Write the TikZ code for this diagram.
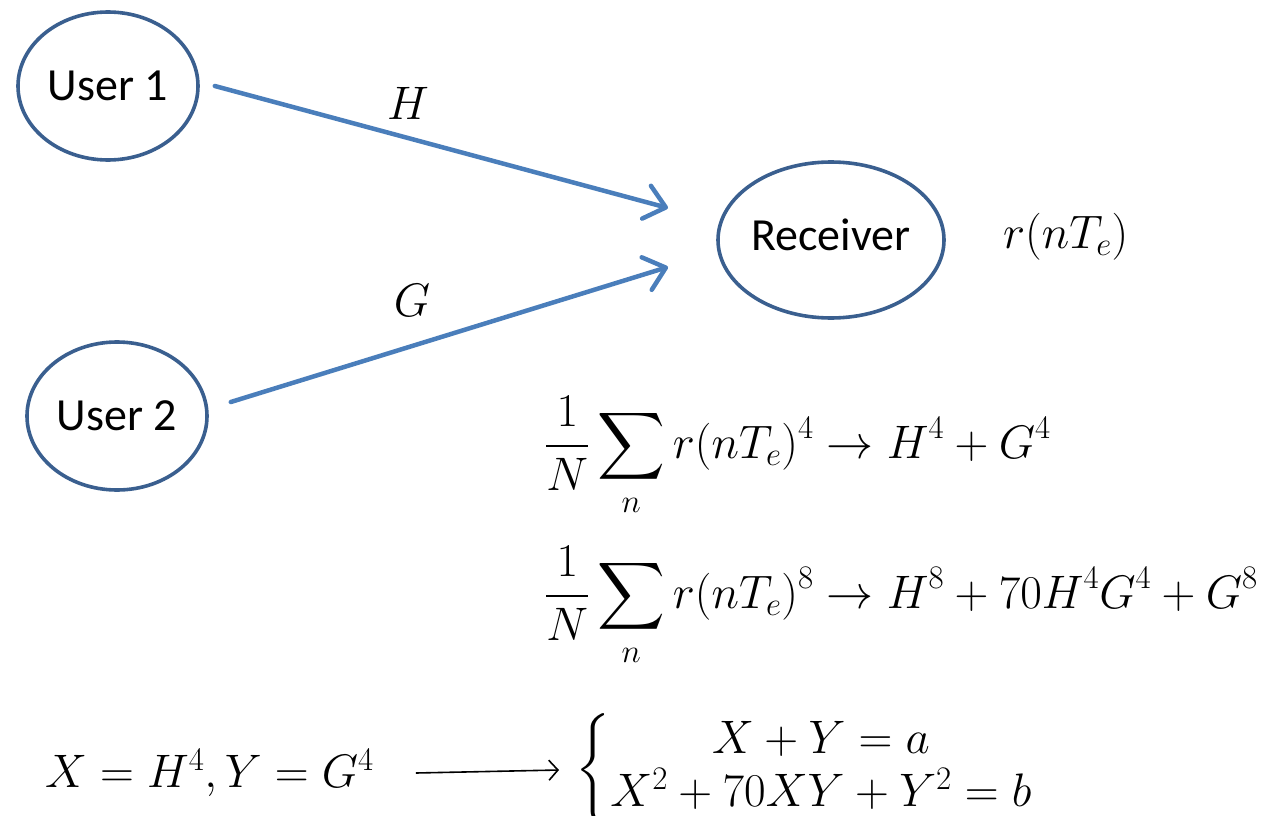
\RequirePackage{fix-cm}
\documentclass[tikz,border=0pt]{standalone}
\usepackage{amsmath}
\DeclareFontShape{OMX}{cmex}{m}{n}{<->cmex10}{}
\usepackage{fontspec}
\newfontfamily\calibri{Carlito}
\usetikzlibrary{shapes.geometric,arrows.meta}
\definecolor{ellblue}{HTML}{3A5F8F}
\definecolor{arrblue}{HTML}{4A7EBB}
\begin{document}
\begin{tikzpicture}[x=1pt,y=-1pt,
  user/.style={ellipse,draw=ellblue,line width=3.6pt,font=\calibri\fontsize{46}{50}\selectfont,inner sep=0pt},
  chan/.style={draw=arrblue,line width=4.5pt,line cap=round,-{Straight Barb[length=20pt,width=34pt,line cap=round,line join=round]}},
  lbl/.style={font=\fontsize{47}{55}\selectfont,inner sep=0pt},
  thinarr/.style={draw=black,line width=1.6pt,-{Straight Barb[length=9pt,width=20pt]}}]
\useasboundingbox (0,0) rectangle (1288,816);
\node[user,minimum width=180pt,minimum height=148pt] (u1) at (108,86) {User 1};
\node[user,minimum width=180pt,minimum height=148pt] (u2) at (117,416) {User 2};
\node[user,minimum width=226pt,minimum height=156pt] (rx) at (831,240) {\raisebox{10pt}{Receiver}};
\coordinate (h2) at (668,208);
\coordinate (g2) at (668,267);
\draw[chan] ([xshift=15pt]u1.east) -- (h2);
\draw[chan] ([shift={(22,-14)}]u2.east) -- (g2);
\node[lbl] (hl) at (408,103) {$H$};
\node[lbl] (gl) at (412,300) {$G$};
\node[lbl,anchor=base west] (r) at (1003,248) {$r(nT_e)$};
\node[lbl,anchor=base west] (eq1) at (545,458) {$\displaystyle \frac{1}{N}\sum_n r(nT_e)^4 \to H^4+G^4$};
\node[lbl,anchor=base west] (eq2) at (545,608) {$\displaystyle \frac{1}{N}\sum_n r(nT_e)^8 \to H^8+70H^4G^4+G^8$};
\node[lbl,anchor=west] (xy) at (45,773) {$X=H^4,Y=G^4$};
\node[lbl,anchor=west] (sys) at (575,770) {\renewcommand\arraystretch{0.88}$\left\{\begin{array}{@{}c@{}} X+Y=a\\ X^2+70XY+Y^2=b\end{array}\right.$};
\draw[thinarr] ([xshift=42pt]xy.east) -- ([xshift=-16pt]sys.west);
\end{tikzpicture}
\end{document}
